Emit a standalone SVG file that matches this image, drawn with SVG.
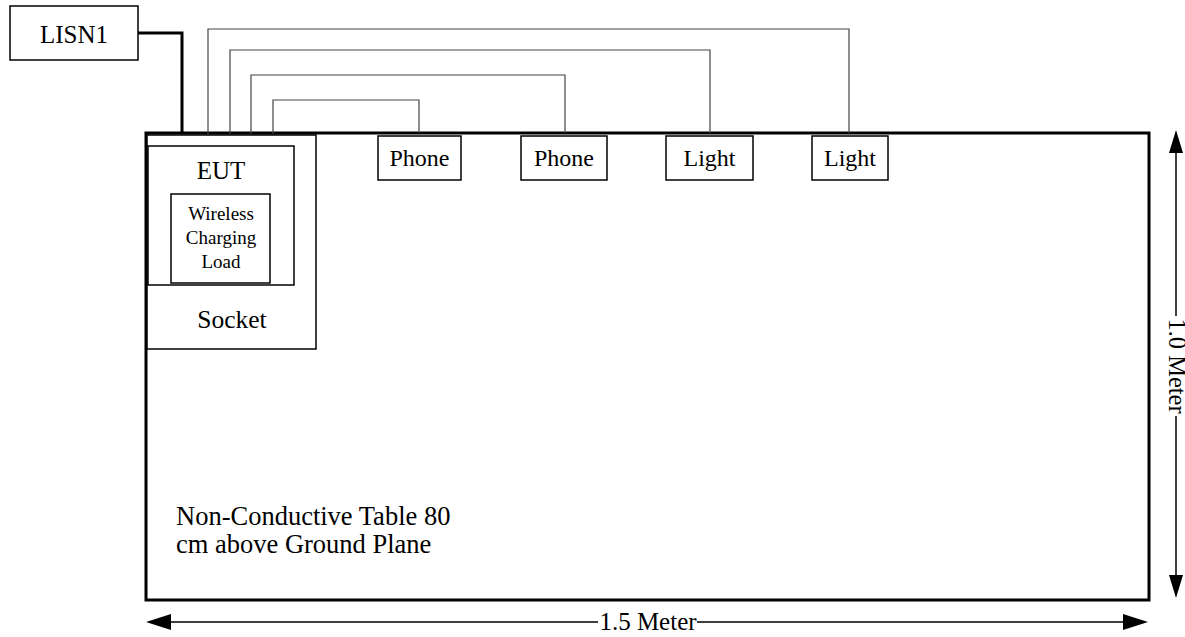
<svg xmlns="http://www.w3.org/2000/svg" width="1185" height="637" viewBox="0 0 1185 637">
<style>
text{font-family:"Liberation Serif","Times New Roman",serif;fill:#000}
.box{fill:#fff;stroke:#000;stroke-width:1.5}
.wire{fill:none;stroke:#444;stroke-width:1.2}
.thick{fill:none;stroke:#000;stroke-width:3}
.dim{fill:none;stroke:#000;stroke-width:1.5}
.lbl{font-size:25px;text-anchor:middle}
.sm{font-size:24px;text-anchor:middle}
.xs{font-size:19px;text-anchor:middle}
</style>
<rect width="1185" height="637" fill="#fff"/>
<g id="table">
<rect x="146" y="133" width="1003" height="467" fill="#fff" stroke="#000" stroke-width="3"/>
<text x="176" y="525" style="font-size:26.5px">Non-Conductive Table 80</text>
<text x="176" y="553" style="font-size:26.5px">cm above Ground Plane</text>
</g>
<g id="connectors">
<path class="thick" d="M138,33 H182 V133"/>
<path class="wire" d="M208,146 V29 H849 V133"/>
<path class="wire" d="M230,146 V50 H710 V133"/>
<path class="wire" d="M251,146 V75 H565 V133"/>
<path class="wire" d="M273,146 V100 H419 V133"/>
</g>
<g id="lisn1">
<rect class="box" x="10" y="6" width="128" height="54"/>
<text class="lbl" x="74" y="43">LISN1</text>
</g>
<g id="socket">
<rect class="box" x="147" y="135" width="169" height="214"/>
<text class="lbl" x="232" y="328" style="font-size:25.5px">Socket</text>
</g>
<g id="eut">
<rect class="box" x="148" y="146" width="146" height="139"/>
<text class="lbl" x="221" y="179">EUT</text>
</g>
<g id="wireless">
<rect class="box" x="171" y="194" width="99" height="89"/>
<text class="xs" x="221" y="220">Wireless</text>
<text class="xs" x="221" y="244">Charging</text>
<text class="xs" x="221" y="268">Load</text>
</g>
<g id="phone1">
<rect class="box" x="378" y="136" width="83" height="44"/>
<text class="sm" x="419.5" y="166">Phone</text>
</g>
<g id="phone2">
<rect class="box" x="521" y="136" width="86" height="44"/>
<text class="sm" x="564" y="166">Phone</text>
</g>
<g id="light1">
<rect class="box" x="666" y="136" width="87" height="44"/>
<text class="sm" x="709.5" y="166">Light</text>
</g>
<g id="light2">
<rect class="box" x="812" y="136" width="76" height="44"/>
<text class="sm" x="850" y="166">Light</text>
</g>
<g id="dim-h">
<path class="dim" d="M170,622 H598 M697,622 H1124"/>
<polygon points="146,622 171,614 171,630"/>
<polygon points="1148,622 1123,614 1123,630"/>
<text class="lbl" x="648" y="630">1.5 Meter</text>
</g>
<g id="dim-v">
<path class="dim" d="M1176,152 V316 M1176,416 V576"/>
<polygon points="1176,130 1169,153 1183,153"/>
<polygon points="1176,598 1169,575 1183,575"/>
<text class="lbl" transform="translate(1176,366) rotate(90)" x="0" y="7" style="font-size:24.5px">1.0 Meter</text>
</g>
</svg>
